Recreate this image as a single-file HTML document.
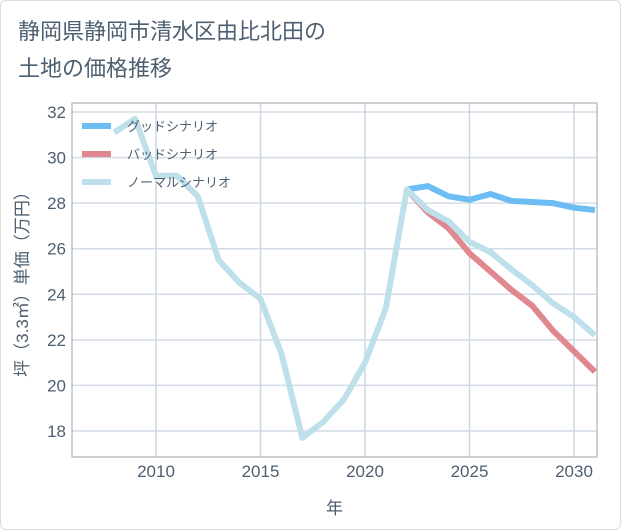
<!DOCTYPE html>
<html><head><meta charset="utf-8"><style>
body{margin:0;background:#fff;}
#wrap{position:relative;width:619px;height:528px;background:#fff;font-family:"Liberation Sans","Noto Sans CJK JP",sans-serif;border:1px solid #dcdcdc;border-radius:6px;overflow:hidden;}
#title{position:absolute;left:17px;top:12px;font-size:22px;line-height:37px;color:#4d5f70;margin:0;font-weight:normal;}
</style></head><body>
<div id="wrap">
<h1 id="title">静岡県静岡市清水区由比北田の<br>土地の価格推移</h1>
<svg id="chart" width="621" height="530" style="position:absolute;left:-1px;top:-1px"></svg>
</div>
<script>
const years=[2008,2009,2010,2011,2012,2013,2014,2015,2016,2017,2018,2019,2020,2021,2022,2023,2024,2025,2026,2027,2028,2029,2030,2031];
const normalVals=[31.1,31.7,29.2,29.2,28.3,25.5,24.5,23.8,21.4,17.7,18.4,19.4,21.0,23.4,28.6,27.7,27.2,26.3,25.85,25.1,24.4,23.6,23.0,22.2];
const futureYears=[2022,2023,2024,2025,2026,2027,2028,2029,2030,2031];
const goodVals=[28.6,28.75,28.3,28.15,28.4,28.1,28.05,28.0,27.8,27.7];
const badVals=[28.6,27.6,26.9,25.8,25.0,24.2,23.5,22.4,21.5,20.6];
const yTicks=[18,20,22,24,26,28,30,32];
const xTicks=[2010,2015,2020,2025,2030];
const legendLabels=["グッドシナリオ","バッドシナリオ","ノーマルシナリオ"];
const colors=["#6cbdf4","#e0888f","#bde0eb"];

const L=72,R=597,T=103,B=457;
const x=v=>156+(v-2010)*(574-156)/20;
const y=v=>112+(32-v)*(431-112)/14;
const svg=document.getElementById('chart');
const NS='http://www.w3.org/2000/svg';
function mk(t,a){const e=document.createElementNS(NS,t);for(const k in a)e.setAttribute(k,a[k]);svg.appendChild(e);return e;}

yTicks.forEach(v=>{
 const g=mk('line',{x1:L,x2:R,y1:y(v),y2:y(v),stroke:'#d3dce6','stroke-width':1.5});
 
 
 const t=mk('text',{x:L-6,y:y(v)+6,'text-anchor':'end','font-size':17,fill:'#4d5f70'});
 t.textContent=v;
 
 
});
xTicks.forEach(v=>{
 const g=mk('line',{x1:x(v),x2:x(v),y1:T,y2:B,stroke:'#ccd7e2','stroke-width':1.5});
 
 
 const t=mk('text',{x:x(v),y:B+20,'text-anchor':'middle','font-size':17,fill:'#4d5f70'});
 t.textContent=v;
 
 
});
const fr=mk('rect',{x:L,y:T,width:R-L,height:B-T,fill:'none',stroke:'#9aa3ad','stroke-width':1});



const cp=mk('clipPath',{id:'cp'});
const cr=document.createElementNS(NS,'rect');cr.setAttribute('x',L);cr.setAttribute('y',T);cr.setAttribute('width',R-L);cr.setAttribute('height',B-T);cp.appendChild(cr);

function line(xs,vs,c,name){
 const p=mk('polyline',{points:xs.map((yr,i)=>x(yr)+','+y(vs[i])).join(' '),fill:'none',stroke:c,'stroke-width':6,'stroke-linejoin':'round','clip-path':'url(#cp)'});
 
 
}
line(futureYears,goodVals,colors[0],'good-scenario-line');
line(futureYears,badVals,colors[1],'bad-scenario-line');
line(years,normalVals,colors[2],'normal-scenario-line');

legendLabels.forEach((lab,i)=>{
 const ly=126+i*28;
 const s=mk('line',{x1:82,x2:111,y1:ly,y2:ly,stroke:colors[i],'stroke-width':6});
 
 
 const t=mk('text',{x:127,y:ly+5,'font-size':13,fill:'#4d5f70'});
 t.textContent=lab;
 
 
});
const xt=mk('text',{x:(L+R)/2,y:514,'text-anchor':'middle','font-size':17,fill:'#4d5f70'});
xt.textContent='年';


const yt=mk('text',{x:0,y:0,'text-anchor':'middle','font-size':17,fill:'#4d5f70',transform:'translate(28,280) rotate(-90)'});
yt.textContent='坪（3.3㎡）単価（万円）';


</script>
</body></html>
